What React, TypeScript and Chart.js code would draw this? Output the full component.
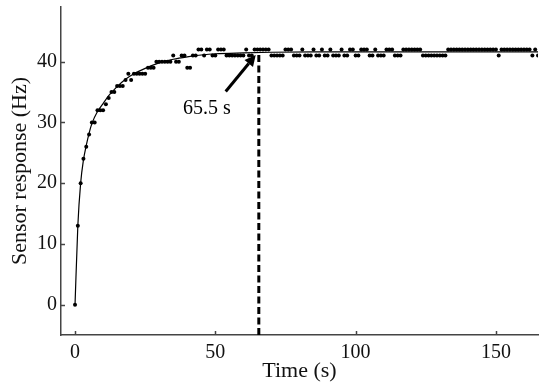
import React, { useEffect, useRef } from "react";
import { Chart, registerables } from "chart.js";

Chart.register(...registerables);

// Sensor response sampled every 1 s (Hz), t = 0 .. 165 s
const sensorValues = [
  0, 13, 20, 24, 26, 28, 30, 30, 32, 32,
  32, 33, 34, 35, 35, 36, 36, 36, 37, 38,
  37, 38, 38, 38, 38, 38, 39, 39, 39, 40,
  40, 40, 40, 40, 40, 41, 40, 40, 41, 41,
  39, 39, 41, 41, 42, 42, 41, 42, 42, 41,
  41, 42, 42, 42, 41, 41, 41, 41, 41, 41,
  41, 42, 41, 41, 42, 42, 42, 42, 42, 42,
  41, 41, 41, 41, 41, 42, 42, 42, 41, 41,
  41, 42, 41, 41, 41, 42, 41, 41, 42, 41,
  41, 42, 41, 41, 41, 42, 41, 41, 42, 42,
  41, 41, 42, 42, 42, 41, 41, 42, 41, 41,
  41, 42, 42, 42, 41, 41, 41, 42, 42, 42,
  42, 42, 42, 42, 41, 41, 41, 41, 41, 41,
  41, 41, 41, 42, 42, 42, 42, 42, 42, 42,
  42, 42, 42, 42, 42, 42, 42, 42, 42, 42,
  42, 41, 42, 42, 42, 42, 42, 42, 42, 42,
  42, 42, 42, 41, 42, 41,
];
const sampleInterval = 1; // seconds between samples

// Fitted response curve
const fitTimes = [0, 1, 2, 3, 4, 5, 6, 8, 10, 12, 15, 18, 21, 25, 30, 35, 40, 45, 50, 60, 70, 85, 100, 130, 165];
const fitValues = [0, 13, 20, 23.8, 26.2, 28.2, 29.8, 31.8, 33.1, 34.4, 35.9, 37.1, 38.0, 38.9, 39.8, 40.4, 40.8, 41.1, 41.3, 41.45, 41.55, 41.6, 41.6, 41.6, 41.6];

const xTicks = [0, 50, 100, 150];
const yTicks = [0, 10, 20, 30, 40];
const xRange = [-5, 165];
const yRange = [-5, 49];

// Response-time marker
const markerTime = 65.5;
const markerTop = 41.3;
const markerLabel = "65.5 s";
const arrowTail = [53.7, 35.1];
const arrowTip = [64.4, 41.1];
const labelAt = [47, 32.3];

const FONT = '"Liberation Serif", "Times New Roman", serif';
const AXIS_COLOR = "#444";

const overlay = {
  id: "overlay",
  afterDatasetsDraw(chart: any) {
    const { ctx, chartArea, scales } = chart;
    const x = scales.x;
    const y = scales.y;
    ctx.save();
    // inward ticks
    ctx.strokeStyle = AXIS_COLOR;
    ctx.lineWidth = 1.5;
    xTicks.forEach((v) => {
      const px = Math.round(x.getPixelForValue(v)) + 0.5;
      ctx.beginPath();
      ctx.moveTo(px, chartArea.bottom);
      ctx.lineTo(px, chartArea.bottom - 4);
      ctx.stroke();
    });
    yTicks.forEach((v) => {
      const py = Math.round(y.getPixelForValue(v)) + 0.5;
      ctx.beginPath();
      ctx.moveTo(chartArea.left, py);
      ctx.lineTo(chartArea.left + 4, py);
      ctx.stroke();
    });
    // arrow
    const x0 = x.getPixelForValue(arrowTail[0]);
    const y0 = y.getPixelForValue(arrowTail[1]);
    const x1 = x.getPixelForValue(arrowTip[0]);
    const y1 = y.getPixelForValue(arrowTip[1]);
    const ang = Math.atan2(y1 - y0, x1 - x0);
    const headLen = 11;
    const headW = 5.5;
    const bx = x1 - headLen * Math.cos(ang);
    const by = y1 - headLen * Math.sin(ang);
    ctx.strokeStyle = "#000";
    ctx.fillStyle = "#000";
    ctx.lineWidth = 3;
    ctx.beginPath();
    ctx.moveTo(x0, y0);
    ctx.lineTo(bx, by);
    ctx.stroke();
    ctx.beginPath();
    ctx.moveTo(x1, y1);
    ctx.lineTo(bx + headW * Math.sin(ang), by - headW * Math.cos(ang));
    ctx.lineTo(bx - headW * Math.sin(ang), by + headW * Math.cos(ang));
    ctx.closePath();
    ctx.fill();
    // label
    ctx.font = `20px ${FONT}`;
    ctx.textAlign = "center";
    ctx.textBaseline = "middle";
    ctx.fillText(markerLabel, x.getPixelForValue(labelAt[0]), y.getPixelForValue(labelAt[1]));
    ctx.restore();
  },
};

export default function App() {
  const ref = useRef<HTMLCanvasElement | null>(null);

  useEffect(() => {
    document.body.style.margin = "0";
    const canvas = ref.current;
    if (!canvas) return;
    const points = sensorValues.map((v, i) => ({ x: i * sampleInterval, y: v }));
    const fit = fitTimes.map((t, i) => ({ x: t, y: fitValues[i] }));
    const chart = new Chart(canvas, {
      type: "scatter",
      data: {
        datasets: [
          {
            label: "Marker",
            data: [
              { x: markerTime, y: yRange[0] },
              { x: markerTime, y: markerTop },
            ],
            showLine: true,
            borderColor: "#000",
            borderWidth: 3,
            borderDash: [7, 3.5],
            pointRadius: 0,
          },
          {
            label: "Fit",
            data: fit,
            showLine: true,
            borderColor: "#000",
            borderWidth: 1.2,
            cubicInterpolationMode: "monotone",
            pointRadius: 0,
          },
          {
            label: "Sensor response",
            data: points,
            backgroundColor: "#000",
            borderWidth: 0,
            pointRadius: 2,
          },
        ],
      },
      options: {
        responsive: true,
        maintainAspectRatio: false,
        animation: false,
        layout: { padding: { left: 3, right: 12, top: 7, bottom: 0 } },
        plugins: {
          legend: { display: false },
          tooltip: { enabled: false },
        },
        scales: {
          x: {
            type: "linear",
            min: xRange[0],
            max: xRange[1],
            afterBuildTicks: (s: any) => {
              s.ticks = xTicks.map((v) => ({ value: v }));
            },
            afterFit: (s: any) => {
              s.height = 54;
              s.paddingLeft = 0;
              s.paddingRight = 0;
            },
            grid: { display: false, drawTicks: false },
            border: { display: true, color: AXIS_COLOR, width: 1.5 },
            ticks: {
              padding: 6,
              color: "#111",
              font: { family: FONT, size: 20 },
              maxRotation: 0,
            },
            title: {
              display: true,
              text: "Time (s)",
              color: "#111",
              font: { family: FONT, size: 22 },
              padding: { top: 0, bottom: 5 },
            },
          },
          y: {
            type: "linear",
            min: yRange[0],
            max: yRange[1],
            afterBuildTicks: (s: any) => {
              s.ticks = yTicks.map((v) => ({ value: v }));
            },
            afterFit: (s: any) => {
              s.width = 58;
              s.paddingTop = 0;
              s.paddingBottom = 0;
            },
            grid: { display: false, drawTicks: false },
            border: { display: true, color: AXIS_COLOR, width: 1.5 },
            ticks: {
              padding: 4,
              color: "#111",
              font: { family: FONT, size: 20 },
            },
            title: {
              display: true,
              text: "Sensor response (Hz)",
              color: "#111",
              font: { family: FONT, size: 22 },
              padding: { top: 4, bottom: 4 },
            },
          },
        },
      },
      plugins: [overlay],
    });
    return () => chart.destroy();
  }, []);

  return (
    <div style={{ width: 550, height: 389, position: "relative" }}>
      <canvas ref={ref} />
    </div>
  );
}
